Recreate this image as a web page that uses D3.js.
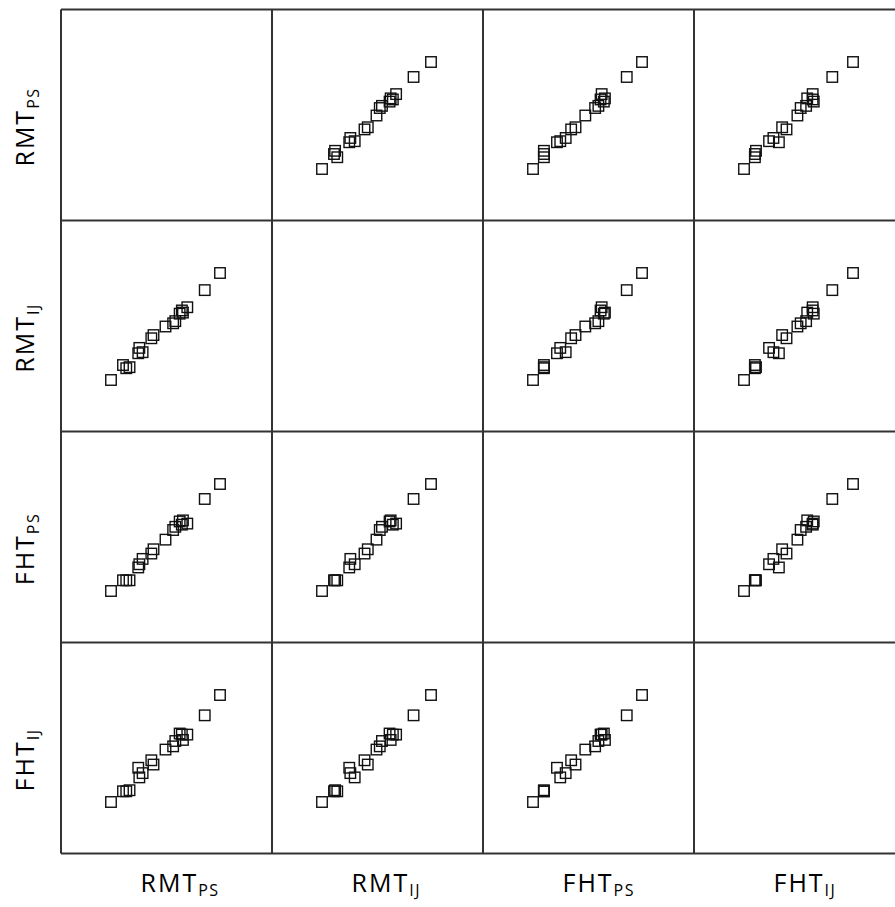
<!DOCTYPE html>
<html>
<head>
<meta charset="utf-8">
<script src="https://cdn.jsdelivr.net/npm/d3@7"></script>
<style>
  html, body { margin: 0; padding: 0; background: #fff; }
  svg { display: block; }
</style>
</head>
<body>
<svg id="chart" width="895" height="907"></svg>
<script>
// Variable names (main text + subscript)
const varNames = ["RMT", "RMT", "FHT", "FHT"];
const varSubs  = ["PS", "IJ", "PS", "IJ"];

// Per-subject values for each variable
const rmtPS = [35.0, 38.3, 39.2, 40.1, 42.5, 42.8, 43.7, 46.1, 46.7, 50.0, 52.1, 52.7, 53.9, 54.5, 56.0, 54.8, 60.8, 65.0];
const rmtIJ = [35.0, 39.2, 38.3, 38.6, 42.5, 44.0, 42.8, 46.7, 47.6, 50.0, 50.9, 51.5, 53.6, 54.5, 55.4, 53.9, 60.2, 65.0];
const fhtPS = [35.0, 38.0, 38.0, 38.0, 41.6, 42.5, 44.0, 45.5, 46.7, 49.4, 52.1, 53.0, 54.5, 53.6, 53.9, 54.8, 60.8, 65.0];
const fhtIJ = [35.0, 38.0, 38.0, 38.3, 44.6, 41.9, 43.1, 46.7, 45.5, 49.7, 50.6, 52.1, 54.2, 53.9, 53.9, 52.4, 59.3, 65.0];

const series = [rmtPS, rmtIJ, fhtPS, fhtIJ];
const nVars = series.length;

const svg = d3.select("#chart");
const marginLeft = 61, marginTop = 9.5, cell = 211;
const lineColor = "#333";

// Outer scale for cells
const cellScale = d3.scaleLinear().domain([0, nVars]).range([0, nVars * cell]);

// Per-variable scales within a cell
const xScales = series.map(s => d3.scaleLinear().domain(d3.extent(s)).range([50, 159]));
const yScales = series.map(s => d3.scaleLinear().domain(d3.extent(s)).range([159.5, 52.5]));

const g = svg.append("g").attr("transform", `translate(${marginLeft},${marginTop})`);

// cells
for (let r = 0; r < nVars; r++) {
  for (let c = 0; c < nVars; c++) {
    if (r === c) continue;
    const cg = g.append("g").attr("transform", `translate(${cellScale(c)},${cellScale(r)})`);
    const pts = d3.range(series[0].length).map(i => [series[c][i], series[r][i]]);
    cg.selectAll("rect").data(pts).enter().append("rect")
      .attr("x", d => xScales[c](d[0]) - 5.25)
      .attr("y", d => yScales[r](d[1]) - 5.25)
      .attr("width", 10.5).attr("height", 10.5)
      .attr("fill", "none")
      .attr("stroke", "#111")
      .attr("stroke-width", 1.4);
  }
}

// grid lines
const gl = g.append("g").attr("stroke", lineColor).attr("stroke-width", 2).attr("fill", "none");
d3.range(nVars + 1).forEach(k => {
  gl.append("line").attr("x1", cellScale(k)).attr("x2", cellScale(k))
    .attr("y1", 0).attr("y2", cellScale(nVars));
  gl.append("line").attr("x1", 0).attr("x2", cellScale(nVars))
    .attr("y1", cellScale(k)).attr("y2", cellScale(k));
});

const fontFamily = "'Open Sans', sans-serif";

// bottom labels
d3.range(nVars).forEach(k => {
  const cx = marginLeft + cellScale(k) + cell / 2;
  const t = svg.append("text")
    .attr("x", cx - 26).attr("y", 891.5)
    .attr("font-family", fontFamily).attr("font-size", 25)
    .attr("letter-spacing", 2)
    .attr("fill", "#000").attr("text-anchor", "start");
  t.append("tspan").text(varNames[k]);
  t.append("tspan").attr("dy", 4.5).attr("font-size", 16).attr("letter-spacing", 1.5).text(varSubs[k]);
});

// left labels (rotated)
d3.range(nVars).forEach(k => {
  const cy = marginTop + cellScale(k) + cell / 2;
  const t = svg.append("text")
    .attr("transform", `translate(34,${cy + 12}) rotate(-90)`)
    .attr("font-family", fontFamily).attr("font-size", 25)
    .attr("letter-spacing", 2)
    .attr("fill", "#000").attr("text-anchor", "middle");
  t.append("tspan").text(varNames[k]);
  t.append("tspan").attr("dy", 4.5).attr("font-size", 16).attr("letter-spacing", 1.5).text(varSubs[k]);
});
</script>
</body>
</html>
